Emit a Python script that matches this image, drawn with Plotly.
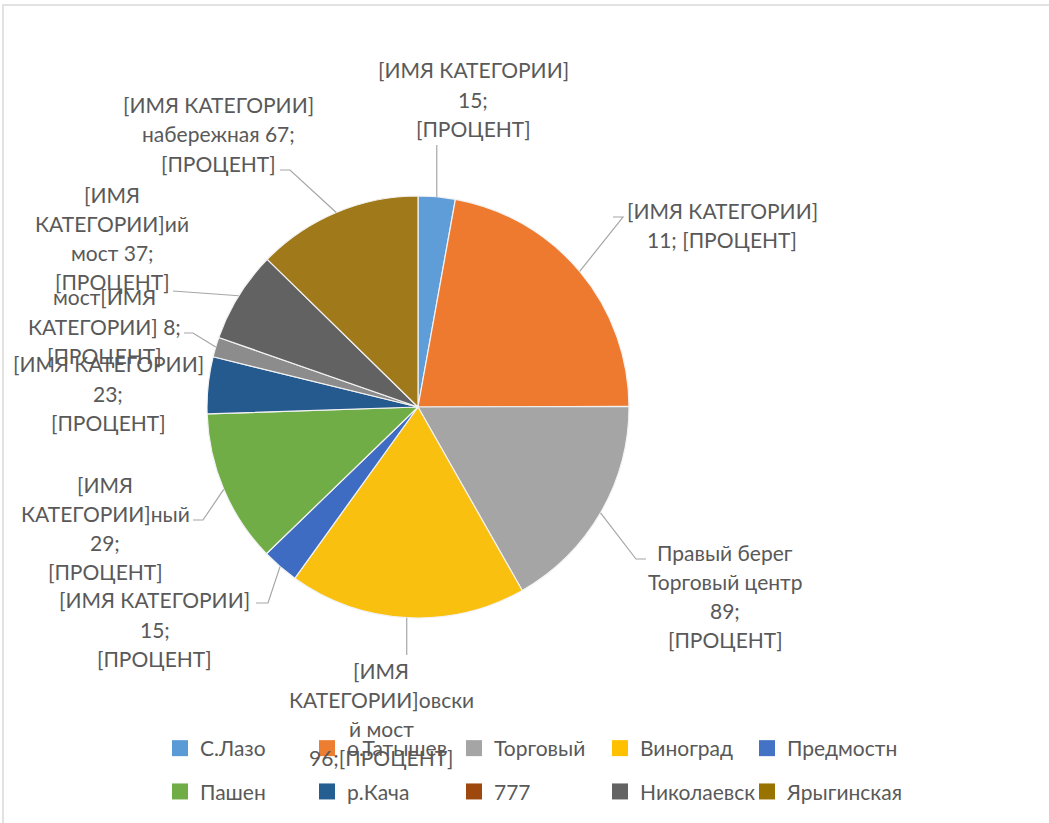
import math
import plotly.graph_objects as go

W, H = 1049, 823

# ---- data -------------------------------------------------------------
categories = ["С.Лазо", "о.Татышев", "Торговый", "Виноград", "Предмостн",
              "Пашен", "р.Кача", "777", "Николаевск", "Ярыгинская"]
values = [15, 117, 89, 96, 15, 62, 23, 8, 37, 67]

slice_colors = ["#5E9DD8", "#EE7A30", "#A5A5A5", "#FAC010", "#3E6CC2",
                "#70AD47", "#255A8F", "#8C8C8C", "#626262", "#A07A1A"]
legend_colors = ["#5B9BD5", "#ED7D31", "#A5A5A5", "#FFC000", "#4472C4",
                 "#70AD47", "#255E91", "#9E480E", "#636363", "#997300"]

label_lines = [
    ["[ИМЯ КАТЕГОРИИ]", "15;", "[ПРОЦЕНТ]"],
    ["[ИМЯ КАТЕГОРИИ]", "11; [ПРОЦЕНТ]"],
    ["Правый берег", "Торговый центр", "89;", "[ПРОЦЕНТ]"],
    ["[ИМЯ", "КАТЕГОРИИ]овски", "й мост", "96;[ПРОЦЕНТ]"],
    ["[ИМЯ КАТЕГОРИИ]", "15;", "[ПРОЦЕНТ]"],
    ["[ИМЯ", "КАТЕГОРИИ]ный", "29;", "[ПРОЦЕНТ]"],
    ["[ИМЯ КАТЕГОРИИ]", "23;", "[ПРОЦЕНТ]"],
    ["мост[ИМЯ", "КАТЕГОРИИ] 8;", "[ПРОЦЕНТ]"],
    ["[ИМЯ", "КАТЕГОРИИ]ий", "мост 37;", "[ПРОЦЕНТ]"],
    ["[ИМЯ КАТЕГОРИИ]", "набережная 67;", "[ПРОЦЕНТ]"],
]

# ---- layout constants (pixels) -----------------------------------------
PIE_CX, PIE_CY, PIE_R = 418, 407, 211
FONT = "Lato, 'Open Sans', sans-serif"
TEXT_COLOR = "#595959"
LINE_STEP = 29.3

# label block centres
label_pos = [(473, 99), (722, 225), (725, 596), (381, 714), (155, 629),
             (105, 528), (108, 393), (104, 326), (112, 238), (218, 134)]
# leader-line waypoints after the anchor on the pie rim (None = no line)
leader_tail = [
    [("ax", 145)],
    [(623, 217), (613, 217)],
    [(636, 559), (646, 559)],
    [("ax", 655)],
    [(268, 603), (256, 603)],
    [(203, 520), (193, 520)],
    None,
    [(193, 333), (184, 333)],
    [(173, 291)],
    [(290, 170), (280, 170)],
]

# legend: five columns, two rows
LEGEND_COL_X = [160, 307, 454, 600, 747]
LEGEND_MID_Y = 770


def px(x):
    return x / W


def py(y):
    return 1 - y / H


fig = go.Figure()

fig.add_trace(go.Pie(
    values=values,
    labels=categories,
    sort=False,
    direction="clockwise",
    rotation=0,
    textinfo="none",
    showlegend=False,
    marker=dict(colors=slice_colors, line=dict(color="#F2F2F2", width=1.2)),
    domain=dict(x=[px(PIE_CX - PIE_R), px(PIE_CX + PIE_R)],
                y=[py(PIE_CY + PIE_R), py(PIE_CY - PIE_R)]),
))

# legend entries: column = index mod 5, row = index // 5
legend_names = ["legend"] + [f"legend{k}" for k in range(2, 6)]
for i, (name, col) in enumerate(zip(categories, legend_colors)):
    fig.add_trace(go.Scatter(
        x=[None], y=[None], mode="markers", name=name,
        marker=dict(symbol="square", size=16, color=col),
        legend=legend_names[i % 5], legendgroup=name, legendrank=i,
        hoverinfo="skip",
    ))

# slice mid-angles -> rim anchors for leader lines
total = sum(values)
shapes = []
annotations = []
cum = 0.0
for i, v in enumerate(values):
    mid = (cum + v / 2) / total * 2 * math.pi
    cum += v
    ax = PIE_CX + PIE_R * math.sin(mid)
    ay = PIE_CY - PIE_R * math.cos(mid)
    tail = leader_tail[i]
    if tail:
        pts = [(ax, ay)] + [((ax if x == "ax" else x), y) for x, y in tail]
        path = "M " + " L ".join(f"{px(x):.5f},{py(y):.5f}" for x, y in pts)
        shapes.append(dict(type="path", xref="paper", yref="paper", path=path,
                           line=dict(color="#A6A6A6", width=1.2)))
    lx, ly = label_pos[i]
    lines = label_lines[i]
    top = ly - LINE_STEP * (len(lines) - 1) / 2
    for k, line in enumerate(lines):
        annotations.append(dict(
            x=px(lx), y=py(top + k * LINE_STEP), xref="paper", yref="paper",
            xanchor="center", yanchor="middle", align="center",
            text=line, showarrow=False,
            font=dict(family=FONT, size=21, color=TEXT_COLOR),
        ))

# chart-area border
shapes.append(dict(type="rect", xref="paper", yref="paper",
                   x0=px(3), y0=py(5), x1=1.02, y1=-0.02,
                   line=dict(color="#D9D9D9", width=1.5)))

legend_layout = {}
for name, lx in zip(legend_names, LEGEND_COL_X):
    legend_layout[name] = dict(
        orientation="v", xanchor="left", yanchor="middle",
        x=px(lx), y=py(LEGEND_MID_Y),
        font=dict(family=FONT, size=21, color=TEXT_COLOR),
        tracegroupgap=13, traceorder="grouped",
        bgcolor="rgba(0,0,0,0)", itemclick=False, itemdoubleclick=False,
    )

fig.update_layout(
    width=W, height=H,
    margin=dict(l=0, r=0, t=0, b=0),
    paper_bgcolor="white", plot_bgcolor="white",
    xaxis=dict(visible=False), yaxis=dict(visible=False),
    shapes=shapes, annotations=annotations,
    **legend_layout,
)

fig.write_html("out.html")
